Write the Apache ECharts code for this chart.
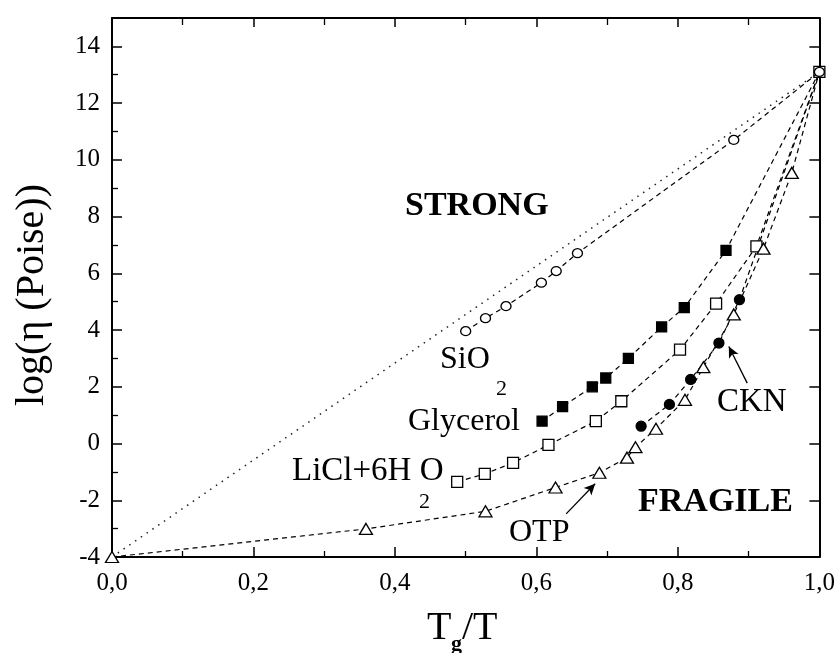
<!DOCTYPE html>
<html>
<head>
<meta charset="utf-8">
<script src="https://cdn.jsdelivr.net/npm/echarts@6/dist/echarts.min.js"></script>
<style>
  html, body { margin: 0; padding: 0; background: #fff; }
  #mychart { width: 838px; height: 653px; }
</style>
</head>
<body>
<div id="mychart"></div>
<script>
"use strict";
// values (x = Tg/T, y = log viscosity)
const sio2X = [0.50, 0.528, 0.557, 0.607, 0.628, 0.658, 0.879, 1.0];
const sio2Y = [3.96, 4.42, 4.84, 5.67, 6.08, 6.71, 10.70, 13.1];
const glycerolX = [0.608, 0.637, 0.679, 0.698, 0.730, 0.777, 0.809, 0.868, 1.0];
const glycerolY = [0.79, 1.30, 2.00, 2.31, 3.00, 4.11, 4.79, 6.81, 13.1];
const liclX = [0.488, 0.527, 0.567, 0.617, 0.684, 0.720, 0.803, 0.854, 0.911, 1.0];
const liclY = [-1.35, -1.07, -0.68, -0.05, 0.79, 1.49, 3.31, 4.93, 6.95, 13.1];
const cknX = [0.748, 0.788, 0.818, 0.858, 0.887, 1.0];
const cknY = [0.61, 1.38, 2.26, 3.54, 5.07, 13.1];
const otpX = [0, 0.359, 0.528, 0.627, 0.689, 0.728, 0.740, 0.769, 0.810, 0.836, 0.879, 0.921, 0.961, 1.0];
const otpY = [-4.0, -3.01, -2.39, -1.55, -1.03, -0.50, -0.13, 0.52, 1.54, 2.69, 4.55, 6.87, 9.54, 13.1];
const arrheniusX = [0, 1];
const arrheniusY = [-4, 13.1];
// arrow tails / heads (data coords)
const otpArrow = [[0.642, -2.48], [0.683, -1.42]];
const cknArrow = [[0.898, 2.13], [0.872, 3.42]];

const SERIF = '"Liberation Serif", "DejaVu Serif", serif';

function pairs(xs, ys, hideLast) {
    return xs.map((x, i) => {
        if (hideLast && i === xs.length - 1) {
            return { value: [x, ys[i]], symbol: 'none' };
        }
        return [x, ys[i]];
    });
}

function dashed(name, data, symbol, size, fill, z) {
    return {
        name,
        type: 'line',
        data,
        symbol,
        symbolSize: size,
        showAllSymbol: true,
        lineStyle: { color: '#000', width: 1.2, type: [5, 4] },
        itemStyle: { color: fill, borderColor: '#000', borderWidth: 1.3 },
        emphasis: { disabled: true },
        z: z || 3
    };
}

function arrow(pts) {
    return {
        silent: true,
        symbol: ['none', 'arrow'],
        symbolSize: [8, 11],
        label: { show: false },
        lineStyle: { color: '#000', width: 1.3, type: 'solid' },
        data: [[{ coord: pts[0] }, { coord: pts[1] }]]
    };
}

const container = document.getElementById('mychart');
const myChart = echarts.init(container);

const tickFont = { fontFamily: SERIF, fontSize: 25, color: '#000' };
const axisLine = { show: true, onZero: false, lineStyle: { color: '#000', width: 2 } };

const otpSeries = dashed('OTP', pairs(otpX, otpY, true), 'triangle', [13, 11], '#fff');
otpSeries.markLine = arrow(otpArrow);
const cknSeries = dashed('CKN', pairs(cknX, cknY, true), 'circle', 10, '#000');
cknSeries.markLine = arrow(cknArrow);

const option = {
    animation: false,
    backgroundColor: '#fff',
    grid: { left: 112, right: 18, top: 18, bottom: 96 },
    xAxis: [
        {
            type: 'value', min: 0, max: 1, interval: 0.2, position: 'bottom',
            axisLine,
            axisTick: { inside: true, length: 10, lineStyle: { color: '#000', width: 1.5 } },
            minorTick: { show: true, splitNumber: 2, length: 6, lineStyle: { color: '#000', width: 1.3 } },
            axisLabel: Object.assign({ margin: 14, formatter: v => v.toFixed(1).replace('.', ',') }, tickFont),
            splitLine: { show: false }
        },
        {
            type: 'value', min: 0, max: 1, interval: 0.2, position: 'top',
            axisLine,
            axisTick: { inside: true, length: 9, lineStyle: { color: '#000', width: 1.5 } },
            minorTick: { show: true, splitNumber: 2, length: 7, lineStyle: { color: '#000', width: 1.3 } },
            axisLabel: { show: false },
            splitLine: { show: false }
        }
    ],
    yAxis: [
        {
            type: 'value', min: -4, max: 15, interval: 2, position: 'left',
            axisLine,
            axisTick: { inside: true, length: 10, lineStyle: { color: '#000', width: 1.5 } },
            minorTick: { show: true, splitNumber: 2, length: 6, lineStyle: { color: '#000', width: 1.3 } },
            axisLabel: Object.assign({ margin: 12, showMaxLabel: false }, tickFont),
            splitLine: { show: false }
        },
        {
            type: 'value', min: -4, max: 15, interval: 2, position: 'right',
            axisLine,
            axisTick: { inside: true, length: 10, lineStyle: { color: '#000', width: 1.5 } },
            axisLabel: { show: false },
            splitLine: { show: false }
        }
    ],
    series: [
        {
            name: 'Arrhenius',
            type: 'line',
            data: pairs(arrheniusX, arrheniusY, false),
            symbol: 'none',
            lineStyle: { color: '#222', width: 1.5, type: [1.5, 5.5] },
            emphasis: { disabled: true },
            z: 2
        },
        dashed('Glycerol', pairs(glycerolX, glycerolY, true), 'rect', 10, '#000'),
        dashed('LiCl+6H2O', pairs(liclX, liclY, false), 'rect', 11, '#fff'),
        cknSeries,
        otpSeries,
        dashed('SiO2', pairs(sio2X, sio2Y, false), 'circle', [10, 9], '#fff', 4)
    ],
    graphic: [
        { type: 'text', x: 405, y: 206, style: { text: 'STRONG', font: 'bold 34px ' + SERIF, fill: '#000', textVerticalAlign: 'middle' } },
        { type: 'text', x: 638, y: 502, style: { text: 'FRAGILE', font: 'bold 34px ' + SERIF, fill: '#000', textVerticalAlign: 'middle' } },
        { type: 'text', x: 440, y: 360, style: { text: 'SiO', font: '32px ' + SERIF, fill: '#000', textVerticalAlign: 'middle' } },
        { type: 'text', x: 496, y: 389, style: { text: '2', font: '22px ' + SERIF, fill: '#000', textVerticalAlign: 'middle' } },
        { type: 'text', x: 408, y: 422, style: { text: 'Glycerol', font: '32px ' + SERIF, fill: '#000', textVerticalAlign: 'middle' } },
        { type: 'text', x: 292, y: 471, style: { text: 'LiCl+6H O', font: '33px ' + SERIF, fill: '#000', textVerticalAlign: 'middle' } },
        { type: 'text', x: 419, y: 502, style: { text: '2', font: '22px ' + SERIF, fill: '#000', textVerticalAlign: 'middle' } },
        { type: 'text', x: 509, y: 533, style: { text: 'OTP', font: '32px ' + SERIF, fill: '#000', textVerticalAlign: 'middle' } },
        { type: 'text', x: 717, y: 402, style: { text: 'CKN', font: '33px ' + SERIF, fill: '#000', textVerticalAlign: 'middle' } },
        // y axis title
        {
            type: 'text', x: 32, y: 295, rotation: Math.PI / 2,
            style: { text: 'log(η (Poise))', font: '40px ' + SERIF, fill: '#000', textAlign: 'center', textVerticalAlign: 'middle' }
        },
        // x axis title T_g/T
        { type: 'text', x: 427, y: 628, style: { text: 'T', font: '40px ' + SERIF, fill: '#000', textVerticalAlign: 'middle' } },
        { type: 'text', x: 451, y: 644, style: { text: 'g', font: 'bold 22px ' + SERIF, fill: '#000', textVerticalAlign: 'middle' } },
        { type: 'text', x: 462, y: 628, style: { text: '/T', font: '40px ' + SERIF, fill: '#000', textVerticalAlign: 'middle' } }
    ]
};
myChart.setOption(option);
</script>
</body>
</html>
